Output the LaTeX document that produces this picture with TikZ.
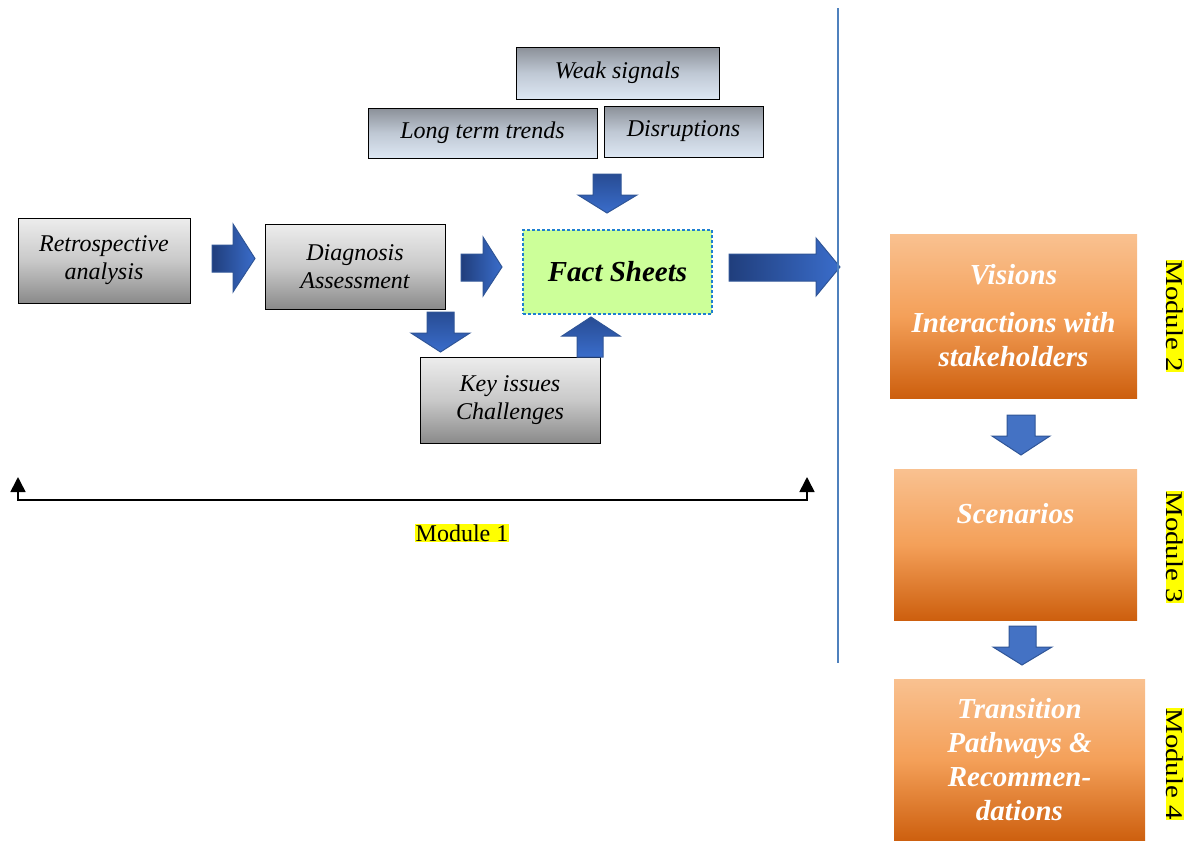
\documentclass[tikz,border=0pt]{standalone}
\usepackage{fontspec}
\setmainfont{LiberationSerif}[Extension=.ttf, UprightFont=*-Regular, ItalicFont=*-Italic, BoldFont=*-Bold, BoldItalicFont=*-BoldItalic]
\usetikzlibrary{arrows.meta}
\definecolor{gtop}{HTML}{EDEDED}
\definecolor{gmid}{HTML}{C9C9C9}
\definecolor{gbot}{HTML}{8A8A8A}
\definecolor{btop}{HTML}{8B9098}
\definecolor{bmid}{HTML}{BFC8D4}
\definecolor{bbot}{HTML}{DDE7F3}
\definecolor{otop}{HTML}{F9C190}
\definecolor{omid}{HTML}{F4A059}
\definecolor{obot}{HTML}{CD5F0E}
\definecolor{factfill}{HTML}{CCFF99}
\definecolor{factedge}{HTML}{1E7FD0}
\definecolor{adark}{HTML}{203E7C}
\definecolor{alight}{HTML}{3A6DCB}
\definecolor{aedge}{HTML}{2F5597}
\definecolor{aflat}{HTML}{4472C4}
\definecolor{vline}{HTML}{4F81BD}
\definecolor{hl}{HTML}{FFFF00}
\begin{document}
\begin{tikzpicture}[x=1pt,y=-1pt,
  graybox/.style={draw=black, line width=0.8pt, top color=gtop, bottom color=gbot, middle color=gmid,
    align=center, inner sep=2pt, font=\fontsize{24}{28}\selectfont\itshape},
  bluebox/.style={draw=black, line width=0.8pt, top color=btop, bottom color=bbot, middle color=bmid,
    align=center, inner sep=2pt, font=\fontsize{24}{28}\selectfont\itshape},
  orangebox/.style={top color=otop, bottom color=obot, middle color=omid, text=white,
    align=center, inner sep=2pt, font=\fontsize{29}{34}\selectfont\bfseries\itshape},
  factbox/.style={draw=factedge, line width=1.3pt, dash pattern=on 3pt off 2pt, fill=factfill,
    align=center, font=\fontsize{29}{34}\selectfont\bfseries\itshape},
  harrow/.style={draw=aedge, line width=1pt, left color=adark, right color=alight},
  varrow/.style={draw=aedge, line width=1pt, top color=adark!70!alight, bottom color=alight},
  flatarrow/.style={draw=aedge, line width=1pt, fill=aflat},
  modlabel/.style={fill=hl, inner xsep=0.5pt, inner ysep=0.5pt, font=\fontsize{24}{26}\selectfont},
  bracket/.style={draw=black, line width=1.6pt, {Triangle[width=15pt,length=15pt]}-{Triangle[width=15pt,length=15pt]}}
]
\useasboundingbox (0,0) rectangle (1192,841);

% left boxes
\node[graybox, minimum width=172pt, minimum height=85pt] (retro) at (104,260.5) {Retrospective\\analysis};
\node[graybox, minimum width=180pt, minimum height=85pt] (diag) at (355,266.5) {Diagnosis\\Assessment};
\node[graybox, minimum width=180pt, minimum height=86pt] (key) at (510,400) {Key issues\\Challenges};
\node[factbox, minimum width=189pt, minimum height=84pt] (fact) at (617.5,272) {Fact Sheets};
\node[bluebox, minimum width=203pt, minimum height=52pt] (weak) at (617.5,73) {Weak signals};
\node[bluebox, minimum width=229pt, minimum height=50pt] (long) at (482.5,133) {Long term trends};
\node[bluebox, minimum width=159pt, minimum height=51pt] (disr) at (683.5,131.5) {Disruptions};

% block arrows (left part)
\path[harrow] (212,245) -- (233,245) -- (233,224) -- (255,258.5) -- (233,292) -- (233,272) -- (212,272) -- cycle;
\path[harrow] (461,254) -- (483,254) -- (483,237) -- (502,267) -- (483,296) -- (483,281) -- (461,281) -- cycle;
\path[varrow] (427,312) -- (454,312) -- (454,333) -- (470,333) -- (440.5,352) -- (411,333) -- (427,333) -- cycle;
\path[varrow] (593,174) -- (621,174) -- (621,195) -- (637,195) -- (607,213) -- (578,195) -- (593,195) -- cycle;
\path[varrow] (577,357) -- (603,357) -- (603,336) -- (620,336) -- (591,317) -- (562,336) -- (577,336) -- cycle;
\path[harrow] (729,254) -- (816,254) -- (816,238) -- (840,267) -- (816,296) -- (816,281) -- (729,281) -- cycle;

% vertical separator
\coordinate (vtop) at (838,8);
\coordinate (vbot) at (838,663);
\draw[vline, line width=1.5pt] (vtop) -- (vbot);

% module 1 bracket
\coordinate (btl) at (18,477);
\coordinate (bbl) at (18,500);
\coordinate (bbr) at (807,500);
\coordinate (btr) at (807,477);
\draw[bracket] (btl) -- (bbl) -- (bbr) -- (btr);
\node[modlabel] (m1) at (462,533) {Module 1};

% right column
\node[orangebox, minimum width=247pt, minimum height=164pt] (vis) at (1013.5,316) {Visions\\[14pt]Interactions with\\stakeholders};
\node[orangebox, minimum width=243pt, minimum height=151pt] (scen) at (1015.5,544.5) {};
\node[text=white, font=\fontsize{29}{34}\selectfont\bfseries\itshape] (scentext) at (1015.5,514) {Scenarios};
\node[orangebox, minimum width=251pt, minimum height=162pt] (trans) at (1019.5,760) {Transition\\Pathways \&\\Recommen-\\dations};

\path[flatarrow] (1007,415) -- (1035,415) -- (1035,436) -- (1050,436) -- (1021,455) -- (992,436) -- (1007,436) -- cycle;
\path[flatarrow] (1009,626) -- (1036,626) -- (1036,647) -- (1052,647) -- (1022,665) -- (993,647) -- (1009,647) -- cycle;

\node[modlabel, rotate=-90, xscale=1.2] (m2) at (1175,316) {Module 2};
\node[modlabel, rotate=-90, xscale=1.2] (m3) at (1175,547) {Module 3};
\node[modlabel, rotate=-90, xscale=1.2] (m4) at (1175,764) {Module 4};
\end{tikzpicture}
\end{document}
